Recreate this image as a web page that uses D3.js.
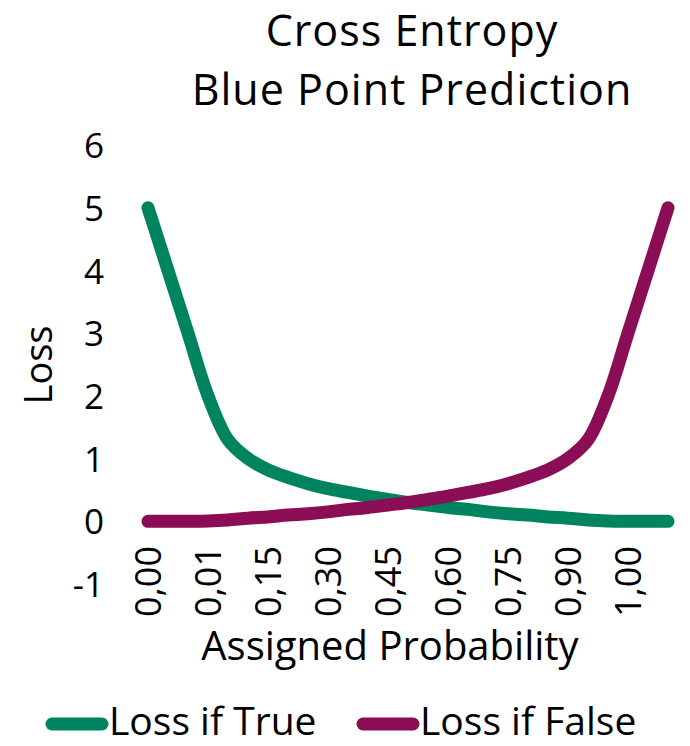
<!DOCTYPE html>
<html><head><meta charset="utf-8">
<script src="https://cdn.jsdelivr.net/npm/d3@7"></script>
<style>body{margin:0;background:#fff}svg{display:block}text{font-family:"Open Sans",sans-serif;fill:#000}</style>
</head><body><svg id="c" width="690" height="746"></svg>
<script>
// assigned probabilities (category axis)
const probabilities = [0.00001,0.0001,0.001,0.01,0.05,0.10,0.15,0.20,0.25,0.30,0.35,0.40,0.45,0.50,0.55,0.60,0.65,0.70,0.75,0.80,0.85,0.90,0.95,0.99,0.999,0.9999,0.99999];
const lossIfTrue  = [5,4,3,2,1.30,1.00,0.82,0.70,0.60,0.52,0.46,0.40,0.35,0.30,0.26,0.22,0.19,0.15,0.12,0.10,0.07,0.05,0.02,0.004,0.0004,0,0];
const lossIfFalse = [0,0,0.0004,0.004,0.02,0.05,0.07,0.10,0.12,0.15,0.19,0.22,0.26,0.30,0.35,0.40,0.46,0.52,0.60,0.70,0.82,1.00,1.30,2,3,4,5];
const tickEvery = 3;
const yTicks = [-1,0,1,2,3,4,5,6];
const seriesNames = ["Loss if True","Loss if False"];
const colors = ["#00845F","#8A0D55"];
const titleLines = ["Cross Entropy","Blue Point Prediction"];

const svg = d3.select("#c");
const idx = d3.range(probabilities.length);
const x = d3.scalePoint().domain(idx).range([148,668]);
const y = d3.scaleLinear().domain([-1,6]).range([584,145]);
const fmt = v => d3.format(".2f")(v).replace(".", ",");
const FONT = '"Open Sans",sans-serif';

// title
svg.selectAll("text.title").data(titleLines).join("text").attr("class","title")
  .attr("text-anchor","middle").style("font-size","43px").style("letter-spacing","1px")
  .attr("x",412).attr("y",(d,i)=>46+i*59).text(d=>d);

// y axis
const yAxis = svg.append("g").attr("transform","translate(104,0)")
  .call(d3.axisLeft(y).tickValues(yTicks).tickSize(0).tickPadding(0).tickFormat(d=>String(d)));
yAxis.select(".domain").remove();
yAxis.selectAll("text").style("font-size","35px").attr("dy","0.36em").style("font-family",FONT);

// x axis
const xAxis = svg.append("g").attr("transform","translate(0,546)")
  .call(d3.axisBottom(x).tickValues(idx.filter(i=>i%tickEvery===0 && i<25)).tickSize(0).tickFormat(i=>fmt(probabilities[i])));
xAxis.select(".domain").remove();
xAxis.selectAll("text").attr("transform","rotate(-90)").attr("x",0).attr("y",0).attr("dy","0.36em")
  .attr("text-anchor","end").style("font-size","36px").style("font-family",FONT);

// axis titles
svg.append("text").attr("transform","translate(52,365) rotate(-90)").attr("text-anchor","middle")
  .style("font-size","38px").text("Loss");
svg.append("text").attr("x",390).attr("y",660).attr("text-anchor","middle")
  .style("font-size","40px").text("Assigned Probability");

// lines
const line = d3.line().x((d,i)=>x(i)).y(d=>y(d)).curve(d3.curveCatmullRom.alpha(0.5));
[lossIfTrue,lossIfFalse].forEach((s,k)=>{
  svg.append("path").attr("d",line(s)).attr("fill","none").attr("stroke",colors[k])
    .attr("stroke-width",13).attr("stroke-linecap","round").attr("stroke-linejoin","round");
});

// legend
const legX = [52, 363];
seriesNames.forEach((n,k)=>{
  const g = svg.append("g").attr("transform",`translate(${legX[k]},724)`);
  g.append("line").attr("x1",0).attr("x2",50).attr("stroke",colors[k]).attr("stroke-width",13).attr("stroke-linecap","round");
  g.append("text").attr("x",57).attr("y",11).style("font-size","39px").text(n);
});
</script></body></html>
